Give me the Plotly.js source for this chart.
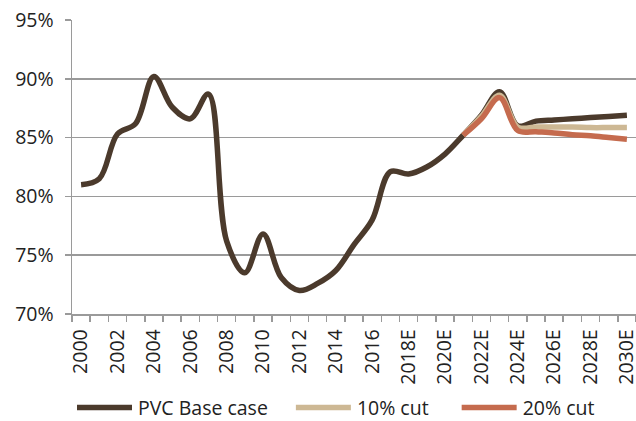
<!DOCTYPE html>
<html>
<head>
<meta charset="utf-8">
<script src="https://cdn.plot.ly/plotly-3.0.1.min.js"></script>
<style>html,body{margin:0;padding:0;background:#fff;}#chart{width:636px;height:421px;}</style>
</head>
<body>
<div id="chart"></div>
<script>
// Categories (years)
var years = ['2000','2001','2002','2003','2004','2005','2006','2007','2008','2009',
  '2010','2011','2012','2013','2014','2015','2016','2017','2018E','2019E',
  '2020E','2021E','2022E','2023E','2024E','2025E','2026E','2027E','2028E','2029E','2030E'];
// Tick labels (every other year shown)
var tickLabels = ['2000','','2002','','2004','','2006','','2008','',
  '2010','','2012','','2014','','2016','','2018E','',
  '2020E','','2022E','','2024E','','2026E','','2028E','','2030E'];
// PVC operating rate, %
var baseCase = [81.0, 81.5, 85.3, 86.2, 90.2, 87.6, 86.6, 88.7, 76.2, 73.5,
  76.8, 73.1, 72.0, 72.6, 73.7, 75.9, 78.0, 82.1, 81.9, 82.5,
  83.6, 85.2, 86.9, 88.9, 86.0, 86.4, 86.5, 86.6, 86.7, 86.8, 86.9];
var cut10 = [null,null,null,null,null,null,null,null,null,null,
  null,null,null,null,null,null,null,null,null,null,
  null, 85.2, 86.8, 88.6, 85.9, 85.9, 85.9, 85.9, 85.85, 85.85, 85.85];
var cut20 = [null,null,null,null,null,null,null,null,null,null,
  null,null,null,null,null,null,null,null,null,null,
  null, 85.2, 86.6, 88.4, 85.6, 85.5, 85.4, 85.25, 85.15, 85.0, 84.85];
var seriesNames = ['PVC Base case', '10% cut', '20% cut'];
var colors = ['#4b3a2c', '#cdb894', '#c56b4e'];

var FONT = 'Open Sans, Noto Sans, sans-serif';
var FS = 19.5;
var gray = '#9a9a9a';

function mk(y, i) {
  return {x: years, y: y, name: seriesNames[i], type: 'scatter', mode: 'lines',
    connectgaps: false,
    line: {color: colors[i], width: 5.5, shape: 'spline', smoothing: 1}};
}
var data = [mk(baseCase, 0), mk(cut10, 1), mk(cut20, 2)];

var layout = {
  width: 636, height: 421,
  margin: {l: 72, r: 0, t: 20, b: 107},
  paper_bgcolor: '#fff', plot_bgcolor: '#fff',
  font: {family: FONT, size: FS, color: '#222'},
  showlegend: true,
  legend: {orientation: 'h', x: 0, xanchor: 'left', xref: 'paper',
    y: 0.031, yref: 'container', yanchor: 'middle',
    itemwidth: 56, font: {family: FONT, size: FS, color: '#222'},
    bgcolor: 'rgba(0,0,0,0)', traceorder: 'normal'},
  xaxis: {
    type: 'category', range: [-0.5, 30.5], fixedrange: true,
    tickmode: 'array', tickvals: years, ticktext: tickLabels,
    tickson: 'boundaries', ticks: 'outside', ticklen: 6, tickwidth: 1.5, tickcolor: gray,
    tickangle: -90, showgrid: false, zeroline: false,
    showline: true, linecolor: gray, linewidth: 1.5,
    ticklabelstandoff: 6,
    tickfont: {family: FONT, size: FS, color: '#222'}
  },
  yaxis: {
    range: [70, 95], dtick: 5, tick0: 70, ticksuffix: '%', fixedrange: true,
    ticks: 'outside', ticklen: 6, tickwidth: 1.5, tickcolor: gray,
    showgrid: true, gridcolor: gray, gridwidth: 1.5, zeroline: false,
    showline: true, linecolor: gray, linewidth: 1.5,
    ticklabelstandoff: 7,
    tickfont: {family: FONT, size: FS, color: '#222'}
  }
};

Plotly.newPlot('chart', data, layout, {staticPlot: true, displayModeBar: false}).then(function (gd) {
  // lengthen legend line samples
  gd.querySelectorAll('.legend .legendlines path').forEach(function (p) {
    p.setAttribute('d', 'M5,0h55');
  });
  // no clipping of the legend box
  gd.querySelectorAll('.legend [clip-path]').forEach(function (el) {
    el.removeAttribute('clip-path');
  });
  // widen spacing between legend entries
  var extra = [0, 18, 41];
  gd.querySelectorAll('.legend .traces').forEach(function (g, i) {
    var t = g.getAttribute('transform') || '';
    var m = /translate\(\s*([-\d.e]+)[ ,]\s*([-\d.e]+)\s*\)/.exec(t);
    if (m) {
      g.setAttribute('transform', 'translate(' + (parseFloat(m[1]) + (extra[i] || 0)) + ',' + m[2] + ')');
    }
  });
});
</script>
</body>
</html>
